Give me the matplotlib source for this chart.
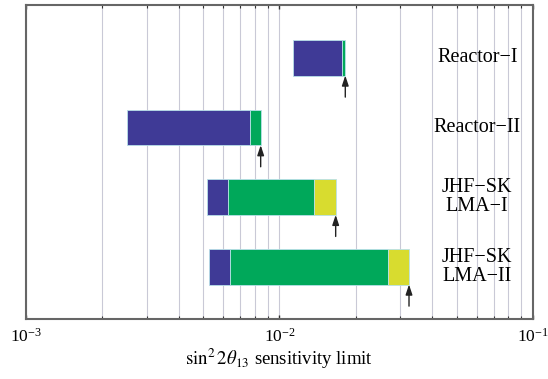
# sin^2 2theta13 sensitivity limits

import numpy as np
import matplotlib.pyplot as plt
import matplotlib.transforms as mtransforms

plt.rcParams['font.family'] = ['Liberation Serif', 'DejaVu Serif']
plt.rcParams['mathtext.fontset'] = 'stix'

labels = ['Reactor\u2212I', 'Reactor\u2212II', 'JHF\u2212SK\nLMA\u2212I', 'JHF\u2212SK\nLMA\u2212II']
ypos = [3, 2, 1, 0]
# segment edges: start, end of blue, end of green, end of yellow
starts = [0.01127, 0.00251, 0.00516, 0.00528]
blue_end = [0.01764, 0.00765, 0.00628, 0.00638]
green_end = [0.01818, 0.00843, 0.01372, 0.02687]
yellow_end = [0.01818, 0.00843, 0.01666, 0.03243]
arrow_at = [0.01818, 0.00843, 0.01666, 0.03243]

c_blue = '#3f3a96'
c_green = '#00a85a'
c_yellow = '#d8dc2f'
edge = '#b8e0e8'

fig = plt.figure(figsize=(5.48, 3.79), dpi=100)
ax = fig.add_axes([0.0474, 0.1583, 0.9252, 0.8272])

h = 0.51
for i, y in enumerate(ypos):
    segs = [(starts[i], blue_end[i], c_blue),
            (blue_end[i], green_end[i], c_green),
            (green_end[i], yellow_end[i], c_yellow)]
    for a, b, c in segs:
        if b > a:
            ax.barh(y, b - a, left=a, height=h, color=c, edgecolor=edge,
                    linewidth=0.6, zorder=3)
    ax.annotate('', xy=(arrow_at[i], y - h / 2), xytext=(arrow_at[i], y - h / 2 - 0.31),
                arrowprops=dict(arrowstyle='-|>,head_length=0.6,head_width=0.2',
                                color='#222222', lw=1.0, shrinkA=0, shrinkB=0),
                zorder=4)

trans = mtransforms.blended_transform_factory(ax.transAxes, ax.transData)
for i, y in enumerate(ypos):
    ax.text(0.89, y, labels[i], transform=trans, ha='center', va='center',
            fontsize=14.5, linespacing=1.0, zorder=5)

ax.set_xscale('log')
ax.set_xlim(1e-3, 1e-1)
ax.set_ylim(-0.75, 3.75)
ax.set_yticks([])
ax.grid(True, which='both', axis='x', color='#c9c9d6', lw=0.8, zorder=0)
ax.tick_params(axis='x', which='both', direction='in', top=True, bottom=True,
               color='#333333', labelsize=12.5, pad=6)
ax.tick_params(axis='x', which='major', length=3, width=1)
ax.tick_params(axis='x', which='minor', length=2, width=0.8)
for s in ax.spines.values():
    s.set_color('#666666')
    s.set_linewidth(1.5)
ax.set_xlabel(r'$\sin^2 2\theta_{13}$ sensitivity limit', fontsize=13.5, labelpad=1)

fig.savefig('out.png', dpi=100)
